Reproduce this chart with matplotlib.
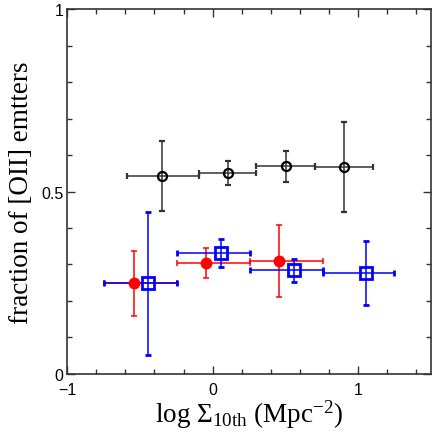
import numpy as np
import matplotlib.pyplot as plt
from matplotlib.ticker import MultipleLocator

plt.rcParams['mathtext.fontset'] = 'custom'
plt.rcParams['mathtext.rm'] = 'Liberation Serif'
plt.rcParams['mathtext.it'] = 'Liberation Serif:italic'

# black: all
bk_x = [-0.345, 0.105, 0.505, 0.902]
bk_y = [0.543, 0.550, 0.569, 0.568]
bk_xlo = [-0.59, -0.096, 0.30, 0.703]
bk_xhi = [-0.096, 0.30, 0.703, 1.10]
bk_yerr = [0.096, 0.033, 0.043, 0.123]

# red: filled circles
rd_x = [-0.543, -0.046, 0.454]
rd_y = [0.248, 0.303, 0.310]
rd_xlo = [-0.744, -0.247, 0.256]
rd_xhi = [-0.247, 0.256, 0.756]
rd_yerr = [0.088, 0.041, 0.099]

# blue: open squares
bl_x = [-0.443, 0.057, 0.557, 1.053]
bl_y = [0.248, 0.331, 0.284, 0.277]
bl_xlo = [-0.744, -0.247, 0.256, 0.756]
bl_xhi = [-0.247, 0.256, 0.756, 1.249]
bl_yerr = [0.197, 0.038, 0.032, 0.087]

yticks = [0, 0.5, 1]
ytick_labels = ['0', '0.5', '1']


def xerr(x, lo, hi):
    x = np.array(x)
    return [x - np.array(lo), np.array(hi) - x]


fig = plt.figure(figsize=(4.36, 4.39), dpi=100)
ax = fig.add_axes([0.154, 0.146, 0.834, 0.831])

ax.errorbar(bk_x, bk_y, xerr=xerr(bk_x, bk_xlo, bk_xhi), yerr=bk_yerr,
            fmt='o', ms=6.5, mfc='none', mec='black', mew=1.6, color='#333333',
            ecolor='#333333', elinewidth=1.1, capsize=2.5, capthick=1.1)
ax.errorbar(rd_x, rd_y, xerr=xerr(rd_x, rd_xlo, rd_xhi), yerr=rd_yerr,
            fmt='o', ms=7.5, color='red', ecolor='red', elinewidth=1.1,
            capsize=2.5, capthick=1.1)
ax.errorbar(bl_x, bl_y, xerr=xerr(bl_x, bl_xlo, bl_xhi), yerr=bl_yerr,
            fmt='s', ms=8, mfc='none', mec='blue', mew=2, color='blue',
            ecolor='blue', elinewidth=1.1, capsize=2.5, capthick=1.1)

ax.set_xlim(-1, 1.5)
ax.set_ylim(0, 1)
ax.xaxis.set_major_locator(MultipleLocator(1))
ax.xaxis.set_minor_locator(MultipleLocator(0.2))
ax.set_yticks(yticks)
ax.set_yticklabels(ytick_labels)
ax.yaxis.set_minor_locator(MultipleLocator(0.1))
ax.tick_params(which='both', direction='in', top=True, right=True,
               labelsize=11.5, color='#333333')
ax.tick_params(axis='y', pad=2.5)
ax.tick_params(axis='x', pad=6)
ax.tick_params(which='major', length=6, width=1)
ax.tick_params(which='minor', length=3.5, width=1)
for lab in ax.get_xticklabels() + ax.get_yticklabels():
    lab.set_family('Liberation Sans')
for s in ax.spines.values():
    s.set_linewidth(1.2)
    s.set_color('#333333')

ax.set_xlabel(r'log $\Sigma_{\rm 10th}$ (Mpc$^{-2}$)', fontsize=19.5,
              family='Liberation Serif', labelpad=0)
ax.set_ylabel('fraction of [OII] emtters', fontsize=19.5,
              family='Liberation Serif', labelpad=5)

fig.savefig('out.png', dpi=100)
